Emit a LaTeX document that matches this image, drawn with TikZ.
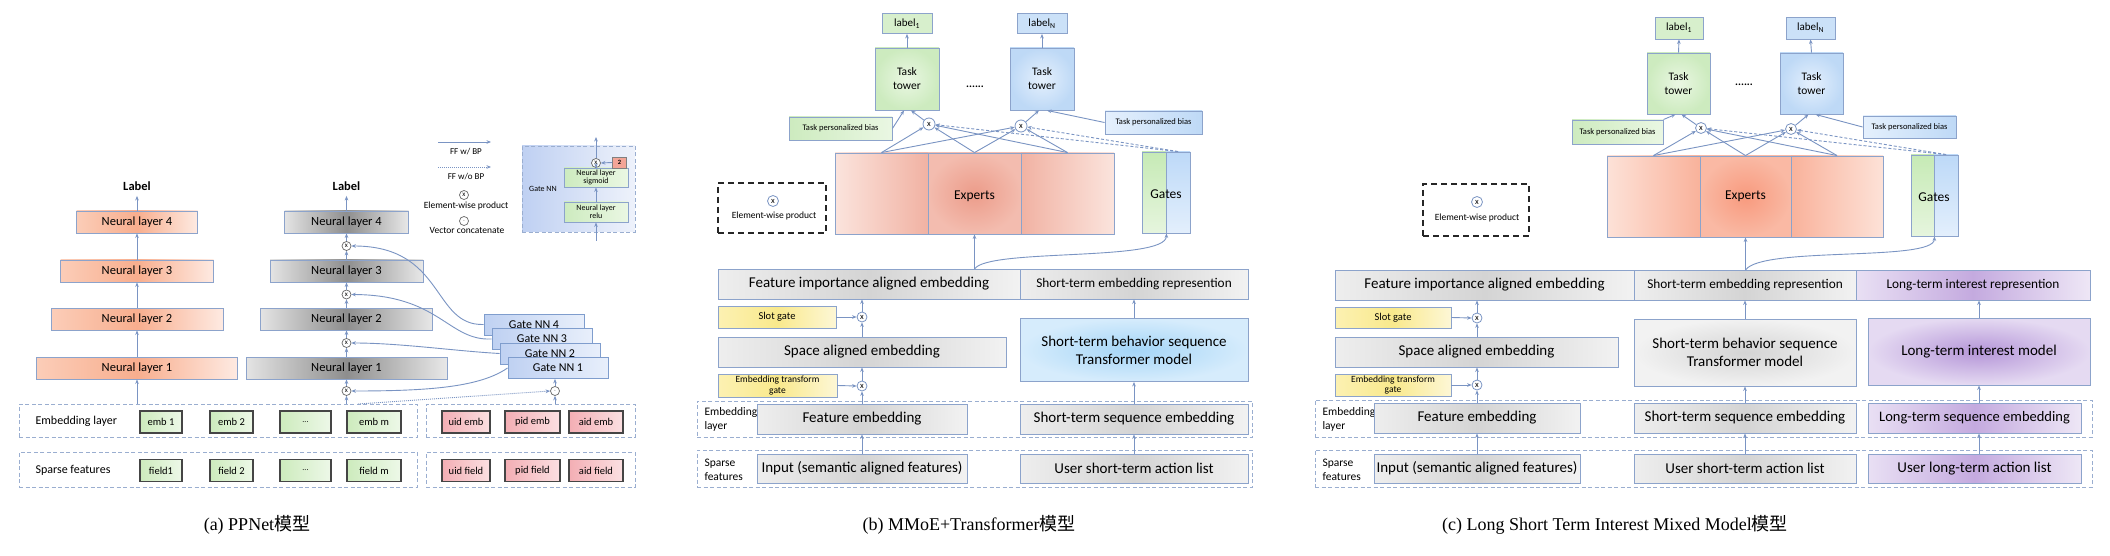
\documentclass[tikz,border=0pt]{standalone}
\usepackage{fontspec}
\setmainfont{Carlito}
\newfontfamily\capfont{Liberation Serif}
\newfontfamily\cjkfont{Noto Sans CJK SC}
\usetikzlibrary{arrows.meta}
\newcommand{\fsz}[2]{\fontsize{#1}{#2}\selectfont}
\definecolor{lnc}{HTML}{7A94C3}
\definecolor{bdc}{HTML}{8CA3CB}
\definecolor{dsh}{HTML}{9AAED0}
\definecolor{or1}{HTML}{FBCDB8}
\definecolor{or2}{HTML}{F8AE8E}
\definecolor{or3}{HTML}{FEEAE2}
\definecolor{gr1}{HTML}{E4E4E4}
\definecolor{gr2}{HTML}{8E8E8E}
\definecolor{gr3}{HTML}{E8E8E8}
\definecolor{gn1}{HTML}{BFD1F2}
\definecolor{gn2}{HTML}{E8EFFB}
\definecolor{gnb}{HTML}{7F9DCD}
\definecolor{eg1}{HTML}{CDEBBD}
\definecolor{eg2}{HTML}{EDF8E8}
\definecolor{rd1}{HTML}{F3AEB4}
\definecolor{rd2}{HTML}{FBE0E2}
\definecolor{dk}{HTML}{454545}
\definecolor{lg1}{HTML}{EEEEEE}
\definecolor{lg2}{HTML}{D4D4D4}
\definecolor{lg3}{HTML}{F2F2F2}
\definecolor{yl1}{HTML}{FCF1B2}
\definecolor{yl2}{HTML}{F9E98C}
\definecolor{yl3}{HTML}{FDF7D6}
\definecolor{tg1}{HTML}{EAF7E3}
\definecolor{tg2}{HTML}{CDEBBF}
\definecolor{tb1}{HTML}{E5F0FD}
\definecolor{tb2}{HTML}{BED9F6}
\definecolor{ex1}{HTML}{FBE4DD}
\definecolor{ex2}{HTML}{F1B2A3}
\definecolor{ex3}{HTML}{EC9C8A}
\definecolor{cx1}{HTML}{FDE2D8}
\definecolor{cx2}{HTML}{F9B29B}
\definecolor{cx3}{HTML}{F89A7E}
\definecolor{tr1}{HTML}{A4D5F7}
\definecolor{tr2}{HTML}{D6ECFC}
\definecolor{pu1}{HTML}{E9E0F4}
\definecolor{pu2}{HTML}{C4AADF}
\definecolor{pu3}{HTML}{EEE7F6}
\definecolor{pm1}{HTML}{B596D8}
\definecolor{pm2}{HTML}{E5DAF2}
\definecolor{gin1}{HTML}{BFD0F2}
\definecolor{gin2}{HTML}{EEF2FB}
\definecolor{twored}{HTML}{F3A597}
\definecolor{gat1}{HTML}{C6EAB5}
\definecolor{gat2}{HTML}{E6F5DE}
\definecolor{gab1}{HTML}{BDD9F8}
\definecolor{gab2}{HTML}{E3EFFC}
\begin{document}
\begin{tikzpicture}[x=1pt,y=-1pt,
  bx/.style={draw=bdc, line width=0.9pt, inner sep=1pt, align=center},
  obox/.style={bx, minimum height=22pt, left color=or1, right color=or3, middle color=or2, font=\fsz{12.5}{14}},
  gbox/.style={bx, minimum height=22pt, left color=gr1, right color=gr3, middle color=gr2, font=\fsz{12.5}{14}},
  gnbox/.style={bx, draw=gnb, minimum width=100pt, minimum height=21pt, left color=gn1, right color=gn2, font=\fsz{12}{14}},
  ebox/.style={draw=dk, line width=1.1pt, inner sep=1pt, minimum height=22pt, left color=eg1, right color=eg2, font=\fsz{10.5}{12}},
  rbox/.style={draw=dk, line width=1.1pt, inner sep=1pt, minimum height=22pt, left color=rd1, right color=rd2, font=\fsz{10.5}{12}},
  dbox/.style={draw=dsh, line width=0.9pt, dash pattern=on 4pt off 2.5pt, inner sep=0pt},
  arr/.style={draw=lnc, line width=0.9pt, -{Stealth[length=4.5pt,width=3.6pt]}},
  darr/.style={arr, dash pattern=on 3pt off 2pt},
  dotarr/.style={arr, dash pattern=on 1pt off 1pt},
  mul/.style={circle, draw=lnc, fill=white, inner sep=0pt, minimum size=11pt, line width=0.8pt, font=\fsz{8.5}{8.5}},
  amul/.style={circle, draw=black!60, fill=white, inner sep=0pt, minimum size=9pt, line width=0.7pt, font=\fsz{7}{7}},
  lgbox/.style={bx, left color=lg1, right color=lg3, middle color=lg2},
  ybox/.style={bx, left color=yl1, right color=yl3, middle color=yl2},
  tgbox/.style={bx, inner color=tg1, outer color=tg2, font=\fsz{11.5}{14}},
  tbbox/.style={bx, inner color=tb1, outer color=tb2, font=\fsz{11.5}{14}},
  lgn/.style={bx, fill=tg2!80!white, font=\fsz{11}{12}},
  lbl/.style={bx, fill=tb2!80!white, font=\fsz{11}{12}},
  bgn/.style={bx, left color=tg2, right color=tg1, font=\fsz{8.5}{10}},
  bbl/.style={bx, left color=tb1, right color=tb2, font=\fsz{8.5}{10}},
  legbox/.style={draw=black!85, line width=1.6pt, dash pattern=on 6pt off 4pt, inner sep=0pt},
  pbox/.style={bx, left color=pu1, right color=pu3, middle color=pu2},
  ]
\useasboundingbox (0,0) rectangle (2110,556);
\fill[white] (0,0) rectangle (2110,556);

% ======================= (a) PPNet =======================
\node[font=\bfseries\fsz{12.5}{14}] (aLabL) at (137,186) {Label};
\node[obox, minimum width=121pt] (aL4) at (137,222) {Neural layer 4};
\node[obox, minimum width=153pt] (aL3) at (137,271) {Neural layer 3};
\node[obox, minimum width=172pt] (aL2) at (137,319) {Neural layer 2};
\node[obox, minimum width=201pt] (aL1) at (137,368) {Neural layer 1};

\node[font=\bfseries\fsz{12.5}{14}] (aLabM) at (346.5,186) {Label};
\node[gbox, minimum width=124pt] (aG4) at (346.5,222) {Neural layer 4};
\node[gbox, minimum width=153pt] (aG3) at (346.5,271) {Neural layer 3};
\node[gbox, minimum width=172pt] (aG2) at (346.5,319) {Neural layer 2};
\node[gbox, minimum width=201pt] (aG1) at (346.5,368) {Neural layer 1};
\node[amul] (am4) at (346.5,246) {x};
\node[amul] (am3) at (346.5,294.5) {x};
\node[amul] (am2) at (346.5,343) {x};
\node[amul] (am1) at (346.5,391) {x};

\node[gnbox] (gn4) at (534,324.5) {Gate NN 4};
\node[gnbox] (gn3) at (542,339) {Gate NN 3};
\node[gnbox] (gn2) at (550,353.5) {Gate NN 2};
\node[gnbox] (gn1) at (558,368) {Gate NN 1};
\node[amul] (aCat) at (555,391) {$\cdot$};

% bottom rows (a)
\node[dbox, minimum width=398pt, minimum height=33pt] (aEmbL) at (218,420.5) {};
\node[dbox, minimum width=209pt, minimum height=33pt] (aEmbR) at (530.5,420.5) {};
\node[dbox, minimum width=398pt, minimum height=35pt] (aSpL) at (218,469.5) {};
\node[dbox, minimum width=209pt, minimum height=35pt] (aSpR) at (530.5,469.5) {};
\node[anchor=west, font=\fsz{12}{14}] (aEt) at (32,421) {Embedding layer};
\node[anchor=west, font=\fsz{12}{14}] (aSt) at (32,470) {Sparse features};
\node[ebox, minimum width=42pt] (emb1) at (161,422) {emb 1};
\node[ebox, minimum width=43pt] (emb2) at (231.5,422) {emb 2};
\node[ebox, minimum width=51pt, font=\fsz{8}{9}] (embd) at (305.5,422) {...};
\node[ebox, minimum width=54pt] (embm) at (374,422) {emb m};
\node[rbox, minimum width=48pt] (uide) at (466,422) {uid emb};
\node[rbox, minimum width=55pt] (pide) at (532.5,422) {pid emb};
\node[rbox, minimum width=54pt] (aide) at (596,422) {aid emb};
\node[ebox, minimum width=42pt] (fld1) at (161,470.5) {field1};
\node[ebox, minimum width=43pt] (fld2) at (231.5,470.5) {field 2};
\node[ebox, minimum width=51pt, font=\fsz{8}{9}] (fldd) at (305.5,470.5) {...};
\node[ebox, minimum width=54pt] (fldm) at (374,470.5) {field m};
\node[rbox, minimum width=48pt] (uidf) at (466,470.5) {uid field};
\node[rbox, minimum width=55pt] (pidf) at (532.5,470.5) {pid field};
\node[rbox, minimum width=54pt] (aidf) at (596,470.5) {aid field};

% connectors (a)
\draw[arr, shorten >=2pt] (aL4.north) -- (aLabL.south);
\draw[arr] (aL3.north) -- (aL4.south);
\draw[arr] (aL2.north) -- (aL3.south);
\draw[arr] (aL1.north) -- (aL2.south);
\draw[arr] (aL1.south |- aEmbL.north) -- (aL1.south);
\draw[arr, shorten >=2pt] (aG4.north) -- (aLabM.south);
\draw[arr] (am4.north) -- (aG4.south);
\draw[arr] (aG3.north) -- (am4.south);
\draw[arr] (am3.north) -- (aG3.south);
\draw[arr] (aG2.north) -- (am3.south);
\draw[arr] (am2.north) -- (aG2.south);
\draw[arr] (aG1.north) -- (am2.south);
\draw[arr] (am1.north) -- (aG1.south);
\draw[arr] (am1.south |- aEmbL.north) -- (am1.south);
\draw[arr] (gn4.west) .. controls (432,326) and (445,246) .. (am4.east);
\draw[arr] (gn3.west) .. controls (448,341) and (440,295) .. (am3.east);
\draw[arr] (gn2.west) .. controls (455,351) and (400,343) .. (am2.east);
\draw[arr] (gn1.west) .. controls (480,387) and (430,391) .. (am1.east);
\draw[arr] (aCat.north) -- (aCat.north |- gn1.south);
\draw[arr] (aCat.south |- aEmbR.north) -- (aCat.south);
\coordinate (adot) at (358,404);
\draw[dotarr] (adot) -- (aCat.west);

% legend (a)
\coordinate (lgA1) at (438,142); \coordinate (lgA2) at (491,142);
\coordinate (lgB1) at (438,167); \coordinate (lgB2) at (491,167);
\draw[arr] (lgA1) -- (lgA2);
\draw[dotarr] (lgB1) -- (lgB2);
\node[font=\fsz{9}{10}] (lgAt) at (466,152) {FF w/ BP};
\node[font=\fsz{9}{10}] (lgBt) at (466,177) {FF w/o BP};
\node[amul] (lgCx) at (464,195) {x};
\node[font=\fsz{9.5}{10}] (lgCt) at (466,205.5) {Element-wise product};
\node[amul] (lgDx) at (464,221) {$\cdot$};
\node[font=\fsz{9.5}{10}] (lgDt) at (467,230) {Vector concatenate};

% Gate NN inset
\node[dbox, minimum width=113pt, minimum height=86pt, left color=gin1, right color=gin2] (aGin) at (578.5,189) {};
\node[font=\fsz{8}{9}] (aGinT) at (543,189) {Gate NN};
\node[bx, minimum width=64pt, minimum height=20pt, left color=tg2, right color=tg1, font=\fsz{8}{8.5}] (aRelu) at (596,212) {Neural layer\\relu};
\node[bx, minimum width=64pt, minimum height=19pt, left color=tg2, right color=tg1, font=\fsz{8}{8.5}] (aSig) at (596,177.5) {Neural layer\\sigmoid};
\node[amul] (agx) at (596,163) {x};
\node[draw=black!50, line width=0.6pt, fill=twored, minimum width=14pt, minimum height=11pt, inner sep=0pt, font=\bfseries\fsz{6.5}{7}] (aTwo) at (619.5,162.5) {2};
\coordinate (ginb) at (596,241);
\coordinate (gint) at (596,137);
\draw[arr] (ginb) -- (aRelu.south);
\draw[arr] (aRelu.north) -- (aSig.south);
\draw[arr] (aSig.north) -- (agx.south);
\draw[arr] (agx.north) -- (gint);
\draw[arr] (aTwo.west) -- (agx.east);

\node[font=\capfont\fsz{18}{20}] (capa) at (257,525) {(a) PPNet{\cjkfont 模型}};

% ======================= (b) MMoE+Transformer =======================
\node[lgn, minimum width=50pt, minimum height=20pt] (bLab1) at (907,23.5) {label\textsubscript{1}};
\node[lbl, minimum width=50pt, minimum height=20pt] (bLabN) at (1042,23.5) {label\textsubscript{N}};
\node[tgbox, minimum width=64pt, minimum height=62pt] (bT1) at (907,79) {Task\\tower};
\node[tbbox, minimum width=64pt, minimum height=62pt] (bTN) at (1042,79) {Task\\tower};
\node[font=\bfseries\fsz{11}{12}] (bDots) at (975,87) {......};
\node[bgn, minimum width=103pt, minimum height=23pt] (bB1) at (840.5,128.5) {Task personalized bias};
\node[bbl, minimum width=97pt, minimum height=23pt] (bBN) at (1153.5,122.5) {Task personalized bias};
\node[mul, minimum size=12pt] (bx1) at (929,124) {x};
\node[mul, minimum size=12pt] (bxN) at (1021,126) {x};
\node[bx, minimum width=93pt, minimum height=81pt, left color=ex1, right color=ex2] (bE1) at (881.5,193.5) {};
\node[bx, minimum width=93pt, minimum height=81pt, inner color=ex3, outer color=ex2!80!ex1] (bE2) at (974.5,193.5) {};
\node[bx, minimum width=93pt, minimum height=81pt, left color=ex2, right color=ex1] (bE3) at (1067.5,193.5) {};
\node[font=\fsz{13.5}{15}] (bExT) at (974.5,196) {Experts};
\node[bx, minimum width=24pt, minimum height=81pt, top color=gat1, bottom color=gat2] (bGa) at (1154,192.5) {};
\node[bx, minimum width=24pt, minimum height=81pt, top color=gab1, bottom color=gab2] (bGb) at (1178,192.5) {};
\node[font=\fsz{13.5}{15}] (bGaT) at (1166,194) {Gates};
\node[legbox, minimum width=108pt, minimum height=50pt] (bLeg) at (772,208) {};
\node[mul] (bLx) at (773,201) {x};
\node[font=\fsz{9.5}{10}] (bLt) at (774,216) {Element-wise product};

\node[lgbox, minimum width=302pt, minimum height=30pt, font=\fsz{15}{17}] (bFI) at (869,284) {Feature importance aligned embedding};
\node[lgbox, minimum width=228pt, minimum height=30pt, font=\fsz{13.3}{15}] (bSTR) at (1134,284) {Short-term embedding represention};
\node[ybox, minimum width=118pt, minimum height=22pt, font=\fsz{10.5}{12}] (bSlot) at (777,317) {Slot gate};
\node[mul, minimum size=10pt] (bxs) at (862,317) {x};
\node[lgbox, minimum width=288pt, minimum height=30pt, font=\fsz{15}{17}] (bSpace) at (862,352) {Space aligned embedding};
\node[ybox, minimum width=119pt, minimum height=23pt, font=\fsz{9.5}{10.5}] (bETG) at (777.5,385.5) {Embedding transform\\gate};
\node[mul, minimum size=10pt] (bxe) at (862,386) {x};
\node[bx, minimum width=228pt, minimum height=63pt, inner color=tr1, outer color=tr2, font=\fsz{15}{18}] (bTr) at (1134,350) {Short-term behavior sequence\\Transformer model};
\node[dbox, minimum width=555pt, minimum height=36pt] (bEmb) at (974.5,419) {};
\node[dbox, minimum width=555pt, minimum height=37pt] (bSp) at (974.5,468.5) {};
\node[anchor=west, align=left, font=\fsz{11.5}{14}] (bEt) at (701,419.5) {Embedding\\layer};
\node[anchor=west, align=left, font=\fsz{11.5}{14}] (bSt) at (701,469.5) {Sparse\\features};
\node[lgbox, minimum width=210pt, minimum height=30pt, font=\fsz{15}{17}] (bFE) at (862,419) {Feature embedding};
\node[lgbox, minimum width=228pt, minimum height=30pt, font=\fsz{15}{17}] (bSTSE) at (1134,419) {Short-term sequence embedding};
\node[lgbox, minimum width=210pt, minimum height=29pt, font=\fsz{15}{17}] (bIn) at (862,468.5) {Input (semantic aligned features)};
\node[lgbox, minimum width=228pt, minimum height=29pt, font=\fsz{15}{17}] (bUS) at (1134,468.5) {User short-term action list};

% connectors (b)
\draw[arr] (bT1.north) -- (bLab1.south);
\draw[arr] (bTN.north) -- (bLabN.south);
\draw[arr] (bB1.east) -- ([xshift=-3pt]bT1.south);
\draw[arr] (bx1) -- ([xshift=4pt]bT1.south);
\draw[arr] (bxN) -- ([xshift=-3pt]bTN.south);
\draw[arr] (bBN.west) -- ([xshift=5pt]bTN.south);
\foreach \e in {bE1,bE2,bE3}{
  \draw[arr] (\e.north) -- (bx1);
  \draw[arr] (\e.north) -- (bxN);
}
\draw[darr] (bGb.north) -- (bx1);
\draw[darr] (bGb.north) -- (bxN);
\coordinate (bfi) at (974.5,269);
\draw[arr] (bfi) -- (bE2.south);
\draw[arr] (bfi) .. controls (988,248) and (1166,262) .. (bGa.south east);
\draw[arr] (bSlot.east) -- (bxs.west);
\draw[arr] (bSpace.north) -- (bxs.south);
\draw[arr] (bxs.north) -- (bxs.north |- bFI.south);
\draw[arr] (bETG.east) -- (bxe.west);
\draw[arr] (bFE.north) -- (bxe.south);
\draw[arr] (bxe.north) -- (bSpace.south);
\draw[arr] (bIn.north) -- (bFE.south);
\draw[arr] (bUS.north) -- (bSTSE.south);
\draw[arr] (bSTSE.north) -- (bTr.south);
\draw[arr] (bTr.north) -- (bSTR.south);

\node[font=\capfont\fsz{18}{20}] (capb) at (969,525) {(b) MMoE+Transformer{\cjkfont 模型}};

% ======================= (c) LSTIM =======================
\node[lgn, minimum width=48pt, minimum height=22pt] (cLab1) at (1679,28) {label\textsubscript{1}};
\node[lbl, minimum width=49pt, minimum height=22pt] (cLabN) at (1810.5,28) {label\textsubscript{N}};
\node[tgbox, minimum width=63pt, minimum height=61pt] (cT1) at (1678.5,83.5) {Task\\tower};
\node[tbbox, minimum width=63pt, minimum height=61pt] (cTN) at (1811.5,83.5) {Task\\tower};
\node[font=\bfseries\fsz{11}{12}] (cDots) at (1744,85) {......};
\node[bgn, minimum width=91pt, minimum height=24pt] (cB1) at (1617.5,132) {Task personalized bias};
\node[bbl, minimum width=93pt, minimum height=22pt] (cBN) at (1909.5,127) {Task personalized bias};
\node[mul] (cx1) at (1701,128) {x};
\node[mul] (cxN) at (1791,129) {x};
\node[bx, minimum width=93pt, minimum height=81pt, left color=cx1, right color=cx2] (cE1) at (1653.5,196.5) {};
\node[bx, minimum width=91pt, minimum height=81pt, inner color=cx3, outer color=cx2!85!cx1] (cE2) at (1745.5,196.5) {};
\node[bx, minimum width=92pt, minimum height=81pt, left color=cx2, right color=cx1] (cE3) at (1837,196.5) {};
\node[font=\fsz{13.5}{15}] (cExT) at (1745.5,196) {Experts};
\node[bx, minimum width=23pt, minimum height=81pt, top color=gat1, bottom color=gat2] (cGa) at (1922.5,195.5) {};
\node[bx, minimum width=24pt, minimum height=81pt, top color=gab1, bottom color=gab2] (cGb) at (1946,195.5) {};
\node[font=\fsz{13.5}{15}] (cGaT) at (1934,197) {Gates};
\node[legbox, minimum width=106pt, minimum height=52pt] (cLeg) at (1476,210) {};
\node[mul] (cLx) at (1477,202) {x};
\node[font=\fsz{9.5}{10}] (cLt) at (1477,218) {Element-wise product};

\node[lgbox, minimum width=299pt, minimum height=30pt, font=\fsz{15}{17}] (cFI) at (1484.5,285) {Feature importance aligned embedding};
\node[lgbox, minimum width=222pt, minimum height=30pt, font=\fsz{13.3}{15}] (cSTR) at (1745,285) {Short-term embedding represention};
\node[pbox, minimum width=234pt, minimum height=30pt, font=\fsz{13.3}{15}] (cLTR) at (1973,285) {Long-term interest represention};
\node[ybox, minimum width=116pt, minimum height=21pt, font=\fsz{10.5}{12}] (cSlot) at (1393,317.5) {Slot gate};
\node[mul, minimum size=10pt] (cxs) at (1477,318) {x};
\node[lgbox, minimum width=283pt, minimum height=30pt, font=\fsz{15}{17}] (cSpace) at (1476.5,352) {Space aligned embedding};
\node[ybox, minimum width=116pt, minimum height=22pt, font=\fsz{9.5}{10.5}] (cETG) at (1393,385) {Embedding transform\\gate};
\node[mul, minimum size=10pt] (cxe) at (1477,385) {x};
\node[bx, minimum width=222pt, minimum height=67pt, inner color=lg2, outer color=lg3, font=\fsz{15}{18}] (cTr) at (1745,352.5) {Short-term behavior sequence\\Transformer model};
\node[bx, minimum width=222pt, minimum height=67pt, inner color=pm1, outer color=pm2, font=\fsz{15}{18}] (cLTM) at (1979,351.5) {Long-term interest model};
\node[dbox, minimum width=777pt, minimum height=37pt] (cEmb) at (1703.5,418.5) {};
\node[dbox, minimum width=777pt, minimum height=37pt] (cSp) at (1703.5,468.5) {};
\node[anchor=west, align=left, font=\fsz{11.5}{14}] (cEt) at (1319,419) {Embedding\\layer};
\node[anchor=west, align=left, font=\fsz{11.5}{14}] (cSt) at (1319,469.5) {Sparse\\features};
\node[lgbox, minimum width=206pt, minimum height=30pt, font=\fsz{15}{17}] (cFE) at (1477,418) {Feature embedding};
\node[lgbox, minimum width=222pt, minimum height=30pt, font=\fsz{15}{17}] (cSTSE) at (1745,418) {Short-term sequence embedding};
\node[pbox, minimum width=213pt, minimum height=30pt, font=\fsz{14.5}{17}] (cLTSE) at (1974.5,418) {Long-term sequence embedding};
\node[lgbox, minimum width=206pt, minimum height=29pt, font=\fsz{15}{17}] (cIn) at (1477,468.5) {Input (semantic aligned features)};
\node[lgbox, minimum width=222pt, minimum height=29pt, font=\fsz{15}{17}] (cUS) at (1745,468.5) {User short-term action list};
\node[pbox, minimum width=213pt, minimum height=29pt, font=\fsz{15}{17}] (cUL) at (1974.5,468.5) {User long-term action list};

% connectors (c)
\draw[arr] (cT1.north) -- (cLab1.south);
\draw[arr] (cTN.north) -- (cLabN.south);
\draw[arr] (cB1.north east) -- ([xshift=-3pt]cT1.south);
\draw[arr] (cx1) -- ([xshift=3pt]cT1.south);
\draw[arr] (cxN) -- ([xshift=-3pt]cTN.south);
\draw[arr] (cBN.west) -- ([xshift=4pt]cTN.south);
\foreach \e in {cE1,cE2,cE3}{
  \draw[arr] (\e.north) -- (cx1);
  \draw[arr] (\e.north) -- (cxN);
}
\draw[darr] (cGb.north) -- (cx1);
\draw[darr] (cGb.north) -- (cxN);
\coordinate (cst) at (1745.5,270);
\draw[arr] (cst) -- (cE2.south);
\draw[arr] (cst) .. controls (1762,246) and (1934,262) .. (cGa.south east);
\draw[arr] (cSlot.east) -- (cxs.west);
\draw[arr] (cSpace.north -| cxs) -- (cxs.south);
\draw[arr] (cxs.north) -- (cxs.north |- cFI.south);
\draw[arr] (cETG.east) -- (cxe.west);
\draw[arr] (cFE.north) -- (cxe.south);
\draw[arr] (cxe.north) -- (cxe.north |- cSpace.south);
\draw[arr] (cIn.north) -- (cFE.south);
\draw[arr] (cUS.north) -- (cSTSE.south);
\draw[arr] (cSTSE.north) -- (cTr.south);
\draw[arr] (cTr.north) -- (cSTR.south);
\draw[arr] (cLTM.south |- cUL.north) -- (cLTM.south |- cLTSE.south);
\draw[arr] (cLTM.south |- cLTSE.north) -- (cLTM.south);
\draw[arr] (cLTM.north) -- (cLTM.north |- cLTR.south);

\node[font=\capfont\fsz{18}{20}] (capc) at (1615,525) {(c) Long Short Term Interest Mixed Model{\cjkfont 模型}};
\end{tikzpicture}
\end{document}
